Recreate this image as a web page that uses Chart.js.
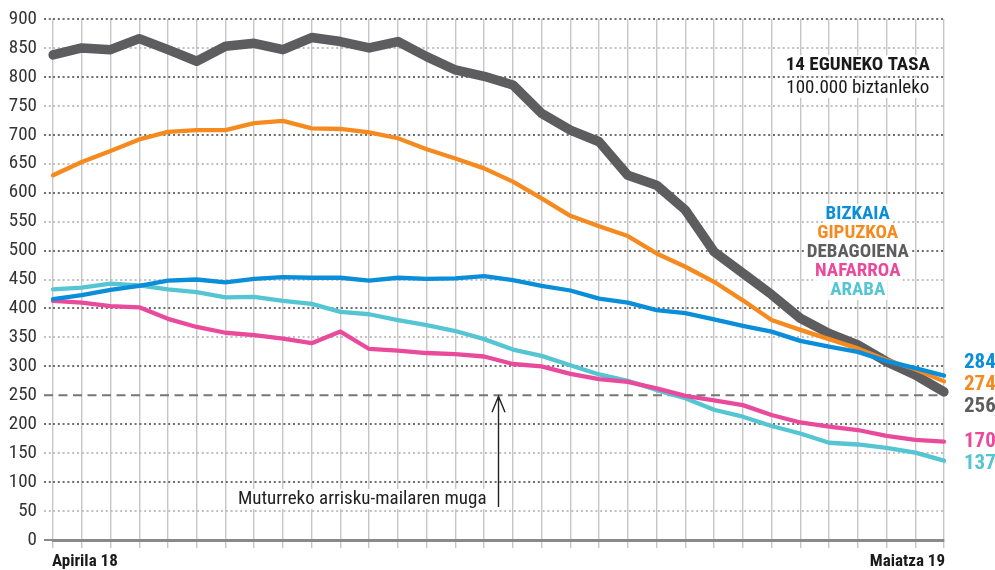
<!DOCTYPE html>
<html>
<head>
<meta charset="utf-8">
<script src="https://cdn.jsdelivr.net/npm/chart.js@4/dist/chart.umd.min.js"></script>
<style>
  html, body { margin: 0; padding: 0; background: #fff; }
  #wrap { width: 995px; height: 570px; }
</style>
</head>
<body>
<div id="wrap"><canvas id="lineChart" width="995" height="570"></canvas></div>
<script>
// eguna (Apirila 18 -> Maiatza 19)
const days = [
  'Apirila 18', 'Apirila 19', 'Apirila 20', 'Apirila 21', 'Apirila 22', 'Apirila 23', 'Apirila 24',
  'Apirila 25', 'Apirila 26', 'Apirila 27', 'Apirila 28', 'Apirila 29', 'Apirila 30',
  'Maiatza 1', 'Maiatza 2', 'Maiatza 3', 'Maiatza 4', 'Maiatza 5', 'Maiatza 6', 'Maiatza 7',
  'Maiatza 8', 'Maiatza 9', 'Maiatza 10', 'Maiatza 11', 'Maiatza 12', 'Maiatza 13', 'Maiatza 14',
  'Maiatza 15', 'Maiatza 16', 'Maiatza 17', 'Maiatza 18', 'Maiatza 19'
];

const bizkaia    = [416, 423, 432, 439, 448, 450, 445, 451, 454, 453, 453, 448, 453, 451, 452, 456, 449, 439, 431, 417, 410, 397, 392, 381, 370, 360, 344, 334, 325, 309, 297, 284];
const gipuzkoa   = [630, 653, 672, 692, 705, 708, 708, 720, 724, 711, 710, 704, 694, 675, 659, 642, 619, 590, 560, 542, 525, 495, 472, 446, 414, 380, 363, 347, 331, 311, 295, 274];
const debagoiena = [838, 850, 847, 866, 847, 827, 853, 858, 847, 868, 861, 850, 861, 835, 812, 801, 786, 737, 708, 688, 630, 613, 570, 498, 461, 424, 383, 357, 337, 308, 285, 256];
const nafarroa   = [413, 410, 404, 402, 382, 368, 358, 354, 348, 340, 360, 330, 327, 323, 321, 317, 304, 300, 287, 278, 273, 262, 249, 241, 233, 216, 203, 196, 190, 180, 173, 170];
const araba      = [433, 436, 443, 440, 433, 428, 419, 420, 413, 408, 394, 390, 380, 371, 361, 347, 329, 318, 302, 286, 275, 259, 245, 225, 213, 197, 184, 168, 165, 159, 151, 137];

const names  = ['BIZKAIA', 'GIPUZKOA', 'DEBAGOIENA', 'NAFARROA', 'ARABA'];
const colors = ['#0a8ed9', '#f58a1f', '#5d5d5f', '#ea4a9b', '#55c5d3'];

const yTicks = { min: 0, max: 900, step: 50 };
const threshold = 250;
const titleLines = ['14 EGUNEKO TASA', '100.000 biztanleko'];
const thresholdText = 'Muturreko arrisku-mailaren muga';

const FONT = "'Liberation Sans Narrow', 'Roboto Condensed', 'DejaVu Sans Condensed', sans-serif";

const CHART = function() {
  return document.getElementById('lineChart').getContext('2d');
};

// white box + text
function boxText(ctx, txt, x, y, font, color, align) {
  ctx.font = font;
  const w = ctx.measureText(txt).width;
  let left = x - w / 2;
  if (align === 'left') left = x;
  if (align === 'right') left = x - w;
  ctx.fillStyle = '#fff';
  ctx.fillRect(left - 2, y - 10, w + 4, 20);
  ctx.fillStyle = color;
  ctx.textAlign = 'left';
  ctx.textBaseline = 'middle';
  ctx.fillText(txt, left, y);
}

const annotations = {
  id: 'annotations',
  beforeDatasetsDraw(chart) {
    const { ctx, chartArea, scales } = chart;
    const x = scales.x, y = scales.y;
    ctx.save();

    // muga lerroa
    const ty = y.getPixelForValue(threshold);
    ctx.strokeStyle = '#777';
    ctx.lineWidth = 2;
    ctx.setLineDash([9, 5.5]);
    ctx.beginPath();
    ctx.moveTo(chartArea.left - 9, ty);
    ctx.lineTo(chartArea.right, ty);
    ctx.stroke();
    ctx.setLineDash([]);

    // izenburua
    const cx = x.getPixelForValue(28);
    boxText(ctx, titleLines[0], cx, y.getPixelForValue(820), 'bold 19px ' + FONT, '#1a1a1a');
    boxText(ctx, titleLines[1], cx, y.getPixelForValue(781), '19px ' + FONT, '#1a1a1a');

    // legenda
    const legendVals = [563, 530, 497, 465, 432];
    names.forEach((n, i) => {
      boxText(ctx, n, cx, y.getPixelForValue(legendVals[i]), 'bold 19px ' + FONT, colors[i]);
    });

    // muga testua + gezia
    const ax = x.getPixelForValue(15.5);
    boxText(ctx, thresholdText, ax - 12, y.getPixelForValue(71), '19px ' + FONT, '#222', 'right');
    ctx.strokeStyle = '#222';
    ctx.lineWidth = 1.4;
    ctx.beginPath();
    ctx.moveTo(ax, y.getPixelForValue(57));
    ctx.lineTo(ax, ty + 1);
    ctx.moveTo(ax - 6.5, ty + 17);
    ctx.lineTo(ax, ty + 1);
    ctx.lineTo(ax + 6.5, ty + 17);
    ctx.stroke();
    ctx.restore();
  },
  afterDraw(chart) {
    const { ctx, chartArea, scales } = chart;
    const x = scales.x, y = scales.y;
    ctx.save();

    // x etiketak
    ctx.font = 'bold 17px ' + FONT;
    ctx.fillStyle = '#1a1a1a';
    ctx.textBaseline = 'middle';
    ctx.textAlign = 'left';
    ctx.fillText(days[0], x.getPixelForValue(0) - 1, 562);
    ctx.textAlign = 'right';
    ctx.fillText(days[days.length - 1], x.getPixelForValue(days.length - 1) + 1, 562);

    // azken balioak, elkarren gainean ez egoteko
    const gap = 22;
    const items = chart.data.datasets.map((ds, i) => {
      const v = ds.data[ds.data.length - 1];
      return { v, color: ds.borderColor, y: y.getPixelForValue(v) };
    }).sort((a, b) => a.y - b.y);
    let groups = items.map(it => ({ items: [it], c: it.y }));
    let moved = true;
    while (moved) {
      moved = false;
      for (let i = 0; i < groups.length - 1; i++) {
        const a = groups[i], b = groups[i + 1];
        const aBot = a.c + (a.items.length - 1) * gap / 2;
        const bTop = b.c - (b.items.length - 1) * gap / 2;
        if (bTop - aBot < gap) {
          const all = a.items.concat(b.items);
          const c = all.reduce((s, it) => s + it.y, 0) / all.length;
          groups.splice(i, 2, { items: all, c });
          moved = true;
          break;
        }
      }
    }
    ctx.font = 'bold 21px ' + FONT;
    ctx.textAlign = 'left';
    groups.forEach(g => {
      g.items.forEach((it, k) => {
        const py = g.c + (k - (g.items.length - 1) / 2) * gap;
        ctx.fillStyle = it.color;
        ctx.fillText(String(it.v), chartArea.right + 20, py + 2);
      });
    });
    ctx.restore();
  }
};

const series = [bizkaia, gipuzkoa, debagoiena, nafarroa, araba];

let lineChart = function(el) {
  return new Chart(el, {
    type: 'line',
    data: {
      labels: days,
      datasets: names.map((n, i) => ({
        label: n,
        data: series[i],
        borderColor: colors[i],
        backgroundColor: colors[i],
        borderWidth: n === 'DEBAGOIENA' ? 9.5 : 4.3,
        borderJoinStyle: 'round',
        borderCapStyle: 'round',
        pointRadius: 0,
        tension: 0,
        fill: false,
        order: n === 'DEBAGOIENA' ? 5 : i
      }))
    },
    options: {
      responsive: false,
      animation: false,
      layout: { padding: { top: 19, right: 51, left: 0, bottom: 0 } },
      plugins: { legend: { display: false }, tooltip: { enabled: false } },
      scales: {
        x: {
          ticks: { display: false, autoSkip: false },
          grid: { color: '#c6c6c6', lineWidth: 1.4, tickLength: 8, tickColor: '#c6c6c6', tickWidth: 1.4 },
          border: { display: true, color: '#8a8a8a', width: 3, z: 1 },
          afterFit(s) { s.height = 30; }
        },
        y: {
          min: yTicks.min,
          max: yTicks.max,
          ticks: {
            stepSize: yTicks.step,
            padding: 7,
            color: '#333',
            font: { family: FONT, size: 19 }
          },
          grid: {
            lineWidth: 2,
            tickLength: 9,
            tickWidth: 2,
            color(c) {
              const v = c.tick.value;
              if (v === 0 || v === threshold) return 'rgba(0,0,0,0)';
              return v % 100 === 0 ? '#6e6e6e' : '#c0c0c0';
            },
            tickColor(c) {
              const v = c.tick.value;
              if (v === 0) return '#8a8a8a';
              if (v === threshold) return 'rgba(0,0,0,0)';
              return v % 100 === 0 ? '#6e6e6e' : '#c0c0c0';
            },
            tickBorderDash(c) {
              return c.tick.value === 0 ? [] : [2, 2.8];
            }
          },
          border: { display: false, dash: [2, 2.8] },
          afterFit(s) { s.width = 53; }
        }
      }
    },
    plugins: [annotations]
  });
};

lineChart(CHART());
</script>
</body>
</html>
